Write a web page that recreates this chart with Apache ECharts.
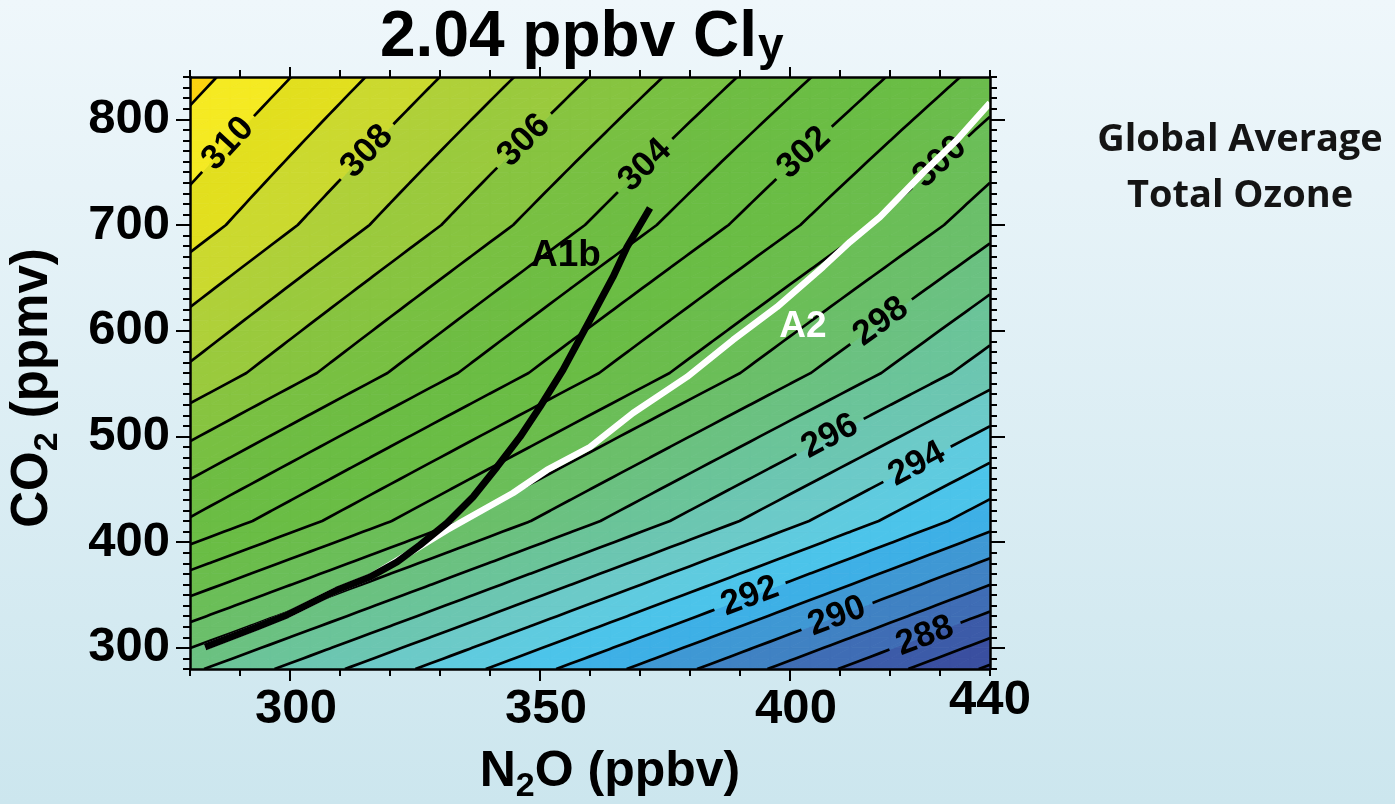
<!DOCTYPE html>
<html>
<head>
<meta charset="utf-8">
<script src="https://cdn.jsdelivr.net/npm/echarts@6/dist/echarts.min.js"></script>
<style>
  html, body { margin: 0; padding: 0; width: 1395px; height: 804px; overflow: hidden; }
  #chart { width: 1395px; height: 804px; }
</style>
</head>
<body>
<div id="chart"></div>
<script>
const FONT = '"Liberation Sans", Arial, Helvetica, sans-serif';

// Model grid: N2O columns (ppbv) and CO2 rows (ppmv)
const n2oGrid = [280, 360, 440];
const co2Grid = [280, 420, 560, 700, 840];

// Global average total ozone (DU) at the grid nodes, one array per CO2 row
const ozoneCO2at280 = [297.2, 291.52, 285.84];
const ozoneCO2at420 = [302.9, 297.15, 291.4];
const ozoneCO2at560 = [306.8, 301.13, 295.46];
const ozoneCO2at700 = [309.5, 303.93, 298.36];
const ozoneCO2at840 = [311.36, 305.98, 300.6];

// Contour levels (DU); bandColors[k] fills values below contourLevels[k], the last one above the top level
const contourLevels = [286, 287, 288, 289, 290, 291, 292, 293, 294, 295, 296, 297, 298,
                       299, 300, 301, 302, 303, 304, 305, 306, 307, 308, 309, 310, 311];
const bandColors = [
  '#38499b', '#3a4fa0', '#3c5ba8', '#3f6db5', '#4082c3', '#3f98d4', '#3eb0e6',
  '#4cc4ea', '#5fcbdf', '#6ccac8', '#6cc6b1', '#6bc499', '#6bc181', '#6bbf6a',
  '#6bbe58', '#6bbd4c', '#6abd45', '#6bbd44', '#6ebd43', '#78c042', '#87c440',
  '#9aca3d', '#afd039', '#cbd92f', '#e2df1e', '#f5ea22', '#fcd20f'
];

// Labelled contours and the N2O position of each label
const labelLevels = [310, 308, 306, 304, 302, 300, 298, 296, 294, 292, 290, 288];
const labelN2O    = [287.6, 315.4, 346.8, 371.0, 402.8, 430.0, 418.2, 408.0, 425.4, 392.0, 409.4, 427.0];

// Scenario paths (N2O ppbv, CO2 ppmv)
const a1bN2O = [283.0, 293.4, 299.4, 309.4, 316.0, 321.4, 326.0, 331.4, 336.6, 341.4, 346.0, 350.0, 354.6, 360.0, 364.6, 367.4, 372.0];
const a1bCO2 = [300.8, 319.7, 331.1, 354.7, 367.0, 381.2, 397.3, 418.1, 442.7, 471.1, 499.5, 527.9, 563.0, 610.2, 650.9, 679.2, 716.1];
const a2N2O  = [283.0, 293.4, 299.4, 309.4, 316.0, 320.6, 331.4, 344.6, 351.4, 360.0, 368.6, 379.4, 388.6, 397.4, 406.6, 412.0, 418.0, 426.6, 433.4, 440.0];
const a2CO2  = [300.8, 319.7, 331.1, 354.7, 367.0, 380.3, 411.5, 446.5, 468.3, 490.0, 522.2, 556.3, 591.3, 622.5, 660.3, 684.0, 707.6, 749.3, 780.5, 815.5];

// Scenario names and where their names are written
const scenarioNames = ['A1b', 'A2'];
const scenarioColors = ['#000000', '#ffffff'];
const scenarioLabelN2O = [355.2, 402.6];
const scenarioLabelCO2 = [671.0, 603.6];

// Axis ticks and labels
const xMajorTicks = [300, 350, 400];
const xLabelValues = [300, 350, 400, 440];
const yMajorTicks = [300, 400, 500, 600, 700, 800];

const ozoneRows = [ozoneCO2at280, ozoneCO2at420, ozoneCO2at560, ozoneCO2at700, ozoneCO2at840];

function cellIndex(grid, v) {
  for (let i = 0; i < grid.length - 2; i++) if (v < grid[i + 1]) return i;
  return grid.length - 2;
}
// Bilinear ozone field over the model grid
function ozoneAt(n, c) {
  const i = cellIndex(n2oGrid, n), j = cellIndex(co2Grid, c);
  const u = (n - n2oGrid[i]) / (n2oGrid[i + 1] - n2oGrid[i]);
  const v = (c - co2Grid[j]) / (co2Grid[j + 1] - co2Grid[j]);
  const r0 = ozoneRows[j], r1 = ozoneRows[j + 1];
  return r0[i] * (1 - u) * (1 - v) + r0[i + 1] * u * (1 - v) + r1[i] * (1 - u) * v + r1[i + 1] * u * v;
}

// Triangulated sampling mesh for the filled bands and contour lines
const nMin = n2oGrid[0], nMax = n2oGrid[n2oGrid.length - 1];
const cMin = co2Grid[0], cMax = co2Grid[co2Grid.length - 1];
const NX = 40, NY = 56;
const nodeN = [], nodeC = [], nodeF = [];
for (let j = 0; j <= NY; j++) {
  for (let i = 0; i <= NX; i++) {
    const n = nMin + (nMax - nMin) * i / NX;
    const c = cMin + (cMax - cMin) * j / NY;
    nodeN.push(n); nodeC.push(c); nodeF.push(ozoneAt(n, c));
  }
}
const nodeId = (i, j) => j * (NX + 1) + i;
const triangles = [];
for (let j = 0; j < NY; j++) {
  for (let i = 0; i < NX; i++) {
    const a = nodeId(i, j), b = nodeId(i + 1, j), c = nodeId(i + 1, j + 1), d = nodeId(i, j + 1);
    triangles.push([a, b, c], [a, c, d]);
  }
}

// Contour polylines for one level, chained through shared triangle edges
function tracePaths(level) {
  const pts = new Map(), adj = new Map();
  const edgePoint = (p, q) => {
    const key = p < q ? p + '_' + q : q + '_' + p;
    if (!pts.has(key)) {
      const t = (level - nodeF[p]) / (nodeF[q] - nodeF[p]);
      pts.set(key, [nodeN[p] + t * (nodeN[q] - nodeN[p]), nodeC[p] + t * (nodeC[q] - nodeC[p])]);
      adj.set(key, []);
    }
    return key;
  };
  for (const tri of triangles) {
    const keys = [];
    for (let e = 0; e < 3; e++) {
      const p = tri[e], q = tri[(e + 1) % 3];
      if ((nodeF[p] < level) !== (nodeF[q] < level)) keys.push(edgePoint(p, q));
    }
    if (keys.length === 2) { adj.get(keys[0]).push(keys[1]); adj.get(keys[1]).push(keys[0]); }
  }
  const visited = new Set(), paths = [];
  const starts = [...adj.keys()].sort((a, b) => adj.get(a).length - adj.get(b).length);
  for (const s of starts) {
    if (visited.has(s)) continue;
    const path = [s]; visited.add(s);
    let cur = s;
    while (true) {
      const next = adj.get(cur).find(k => !visited.has(k));
      if (!next) break;
      visited.add(next); path.push(next); cur = next;
    }
    if (path.length > 1) paths.push(path.map(k => pts.get(k)));
  }
  return paths;
}
const contourPaths = contourLevels.map(tracePaths);

// Clip a polygon (points with field values) to f >= v (above) or f <= v
function clipPoly(poly, v, above) {
  const out = [];
  const inside = q => above ? q.f >= v : q.f <= v;
  for (let k = 0; k < poly.length; k++) {
    const a = poly[k], b = poly[(k + 1) % poly.length];
    const ia = inside(a), ib = inside(b);
    if (ia) out.push(a);
    if (ia !== ib) {
      const t = (v - a.f) / (b.f - a.f);
      out.push({ p: [a.p[0] + t * (b.p[0] - a.p[0]), a.p[1] + t * (b.p[1] - a.p[1])], f: v });
    }
  }
  return out;
}

function renderBands(params, api) {
  const tri = triangles[params.dataIndex];
  const pts = tri.map(id => ({ p: api.coord([nodeN[id], nodeC[id]]), f: nodeF[id] }));
  const fs = pts.map(q => q.f);
  const fmin = Math.min(...fs), fmax = Math.max(...fs);
  const children = [];
  for (let k = 0; k < bandColors.length; k++) {
    const lo = k === 0 ? -Infinity : contourLevels[k - 1];
    const hi = k === contourLevels.length ? Infinity : contourLevels[k];
    if (fmax <= lo || fmin >= hi) continue;
    let poly = pts;
    if (lo > -Infinity) poly = clipPoly(poly, lo, true);
    if (poly.length >= 3 && hi < Infinity) poly = clipPoly(poly, hi, false);
    if (poly.length < 3) continue;
    children.push({
      type: 'polygon', silent: true,
      shape: { points: poly.map(q => q.p) },
      style: { fill: bandColors[k], stroke: bandColors[k], lineWidth: 0.8 }
    });
  }
  return { type: 'group', children };
}

function yAtX(paths, x) {
  for (const pl of paths) {
    for (let k = 0; k < pl.length - 1; k++) {
      const a = pl[k], b = pl[k + 1];
      if ((x - a[0]) * (x - b[0]) <= 0 && a[0] !== b[0]) {
        return a[1] + (x - a[0]) / (b[0] - a[0]) * (b[1] - a[1]);
      }
    }
  }
  return null;
}

// Cut the part of a pixel polyline that lies inside a circle
function cutCircle(pl, c, R) {
  const result = [];
  let cur = [];
  for (let k = 0; k < pl.length - 1; k++) {
    const a = pl[k], b = pl[k + 1];
    const dx = b[0] - a[0], dy = b[1] - a[1];
    const fx = a[0] - c[0], fy = a[1] - c[1];
    const A = dx * dx + dy * dy, B = 2 * (fx * dx + fy * dy), C = fx * fx + fy * fy - R * R;
    const disc = B * B - 4 * A * C;
    let t1 = 2, t2 = 2;
    if (A > 0 && disc > 0) { t1 = (-B - Math.sqrt(disc)) / (2 * A); t2 = (-B + Math.sqrt(disc)) / (2 * A); }
    if (A === 0 || disc <= 0 || t2 <= 0 || t1 >= 1) {
      if (!cur.length) cur.push(a);
      cur.push(b);
    } else {
      if (t1 > 0) {
        if (!cur.length) cur.push(a);
        cur.push([a[0] + t1 * dx, a[1] + t1 * dy]);
      }
      if (cur.length > 1) result.push(cur);
      cur = [];
      if (t2 < 1) cur = [[a[0] + t2 * dx, a[1] + t2 * dy], b];
    }
  }
  if (cur.length > 1) result.push(cur);
  return result;
}

function renderContour(params, api) {
  const level = contourLevels[params.dataIndex];
  let pix = contourPaths[params.dataIndex].map(pl => pl.map(p => api.coord(p)));
  const children = [];
  const li = labelLevels.indexOf(level);
  if (li >= 0) {
    const lx = api.coord([labelN2O[li], cMin])[0];
    const ly = yAtX(pix, lx);
    if (ly !== null) {
      const yl = yAtX(pix, lx - 18), yr = yAtX(pix, lx + 18);
      const ang = (yl !== null && yr !== null) ? Math.atan2(-(yr - yl), 36) : 0;
      const R = 38;
      let cut = [];
      pix.forEach(pl => { cut = cut.concat(cutCircle(pl, [lx, ly], R)); });
      pix = cut;
      children.push({
        type: 'text', x: lx, y: ly, rotation: ang, silent: true, z2: 5,
        style: {
          text: String(level), fill: '#000',
          fontSize: 35, fontWeight: 'bold', fontFamily: FONT,
          align: 'center', verticalAlign: 'middle', textAlign: 'center', textVerticalAlign: 'middle'
        }
      });
    }
  }
  pix.forEach(pl => {
    children.push({
      type: 'polyline', silent: true,
      shape: { points: pl },
      style: { stroke: '#000', lineWidth: 2.7, fill: null, lineJoin: 'round' }
    });
  });
  return { type: 'group', children };
}

const tickStyle = { color: '#000', width: 2 };
const axisLineStyle = { show: true, onZero: false, lineStyle: { color: '#000', width: 2.5 } };
const labelFont = { fontSize: 49, fontWeight: 'bold', fontFamily: FONT, color: '#000' };

function minorAxis(pos, min, max) {
  return {
    type: 'value', position: pos, min, max, interval: 10, z: 10,
    axisLine: axisLineStyle,
    axisTick: { show: true, inside: false, length: 7, lineStyle: tickStyle },
    axisLabel: { show: false }, splitLine: { show: false }
  };
}
function majorAxis(pos, min, max, ticks, len) {
  return {
    type: 'value', position: pos, min, max, z: 10,
    axisLine: { show: false, onZero: false },
    axisTick: { show: true, inside: false, length: len, customValues: ticks, lineStyle: tickStyle },
    axisLabel: { show: false }, splitLine: { show: false }
  };
}

const xBottomMajor = majorAxis('bottom', nMin, nMax, xMajorTicks, 12);
xBottomMajor.axisLabel = {
  show: true, customValues: xLabelValues, margin: 7, showMinLabel: true, showMaxLabel: true,
  formatter: v => (v === nMax ? '{r|' : '{n|') + v + '}',
  rich: {
    n: Object.assign({ padding: [9, 0, 0, 12] }, labelFont),
    r: Object.assign({}, labelFont)
  }
};
const yLeftMajor = majorAxis('left', cMin, cMax, yMajorTicks, 14);
yLeftMajor.axisLabel = Object.assign({ show: true, customValues: yMajorTicks, margin: 20 }, labelFont);

const chart = echarts.init(document.getElementById('chart'), null, { renderer: 'canvas', width: 1395, height: 804 });

chart.setOption({
  animation: false,
  backgroundColor: {
    type: 'linear', x: 0, y: 0, x2: 0, y2: 1,
    colorStops: [{ offset: 0, color: '#eff7fb' }, { offset: 1, color: '#cce6ee' }]
  },
  grid: { left: 190, top: 77, width: 800, height: 592, containLabel: false },
  xAxis: [
    minorAxis('bottom', nMin, nMax),
    xBottomMajor,
    minorAxis('top', nMin, nMax),
    majorAxis('top', nMin, nMax, xMajorTicks, 10)
  ],
  yAxis: [
    minorAxis('left', cMin, cMax),
    yLeftMajor,
    minorAxis('right', cMin, cMax),
    majorAxis('right', cMin, cMax, yMajorTicks, 15)
  ],
  graphic: [
    {
      type: 'text', x: 380, y: 38, silent: true,
      style: {
        text: '{m|2.04 ppbv Cl}{s|y}', align: 'left', verticalAlign: 'middle',
        rich: {
          m: { fontSize: 64, fontWeight: 'bold', fontFamily: FONT, fill: '#000', lineHeight: 64 },
          s: { fontSize: 46, fontWeight: 'bold', fontFamily: FONT, fill: '#000', lineHeight: 30, verticalAlign: 'bottom', padding: [0, 0, 0, 1] }
        }
      }
    },
    {
      type: 'text', x: 1240, y: 112, silent: true,
      style: {
        text: 'Global Average\nTotal Ozone', align: 'center', verticalAlign: 'top',
        fontSize: 38, fontWeight: 'bold', fontFamily: '"Open Sans", "Noto Sans", sans-serif',
        lineHeight: 56, fill: '#141414'
      }
    },
    {
      type: 'text', x: 610, y: 772, silent: true,
      style: {
        text: '{a|N}{s|2}{a|O (ppbv)}', align: 'center', verticalAlign: 'middle',
        rich: {
          a: { fontSize: 50, fontWeight: 'bold', fontFamily: FONT, fill: '#000', lineHeight: 64 },
          s: { fontSize: 34, fontWeight: 'bold', fontFamily: FONT, fill: '#000', lineHeight: 34, verticalAlign: 'bottom' }
        }
      }
    },
    {
      type: 'text', x: 33, y: 388, rotation: Math.PI / 2, silent: true,
      style: {
        text: '{a|CO}{s|2}{a| (ppmv)}', align: 'center', verticalAlign: 'middle',
        rich: {
          a: { fontSize: 51, fontWeight: 'bold', fontFamily: FONT, fill: '#000', lineHeight: 64 },
          s: { fontSize: 34, fontWeight: 'bold', fontFamily: FONT, fill: '#000', lineHeight: 34, verticalAlign: 'bottom' }
        }
      }
    }
  ],
  series: [
    {
      type: 'custom', name: 'Total ozone', z: 1, clip: true, silent: true, progressive: 0,
      xAxisIndex: 0, yAxisIndex: 0,
      renderItem: renderBands,
      data: triangles.map((t, i) => [
        (nodeN[t[0]] + nodeN[t[1]] + nodeN[t[2]]) / 3,
        (nodeC[t[0]] + nodeC[t[1]] + nodeC[t[2]]) / 3, i])
    },
    {
      type: 'custom', name: 'Contours', z: 2, clip: true, silent: true,
      xAxisIndex: 0, yAxisIndex: 0,
      renderItem: renderContour,
      data: contourLevels.map(L => [nMin, cMin, L])
    },
    {
      type: 'line', name: 'A2', z: 3, silent: true, showSymbol: false, symbol: 'none',
      xAxisIndex: 0, yAxisIndex: 0,
      lineStyle: { color: '#ffffff', width: 6.5, opacity: 1 },
      data: a2N2O.map((n, i) => [n, a2CO2[i]])
    },
    {
      type: 'line', name: 'A1b', z: 4, silent: true, showSymbol: false, symbol: 'none',
      xAxisIndex: 0, yAxisIndex: 0,
      lineStyle: { color: '#000000', width: 7, opacity: 1 },
      data: a1bN2O.map((n, i) => [n, a1bCO2[i]])
    },
    {
      type: 'scatter', name: 'Scenario names', z: 5, silent: true,
      xAxisIndex: 0, yAxisIndex: 0, symbolSize: 0,
      label: {
        show: true, position: 'inside', formatter: '{b}',
        fontSize: 37, fontWeight: 'bold', fontFamily: FONT,
        textBorderWidth: 0, opacity: 1
      },
      data: scenarioNames.map((name, i) => ({
        name, value: [scenarioLabelN2O[i], scenarioLabelCO2[i]],
        itemStyle: { color: scenarioColors[i] },
        label: { color: scenarioColors[i], textBorderWidth: 0, opacity: 1 }
      }))
    }
  ]
});
</script>
</body>
</html>
